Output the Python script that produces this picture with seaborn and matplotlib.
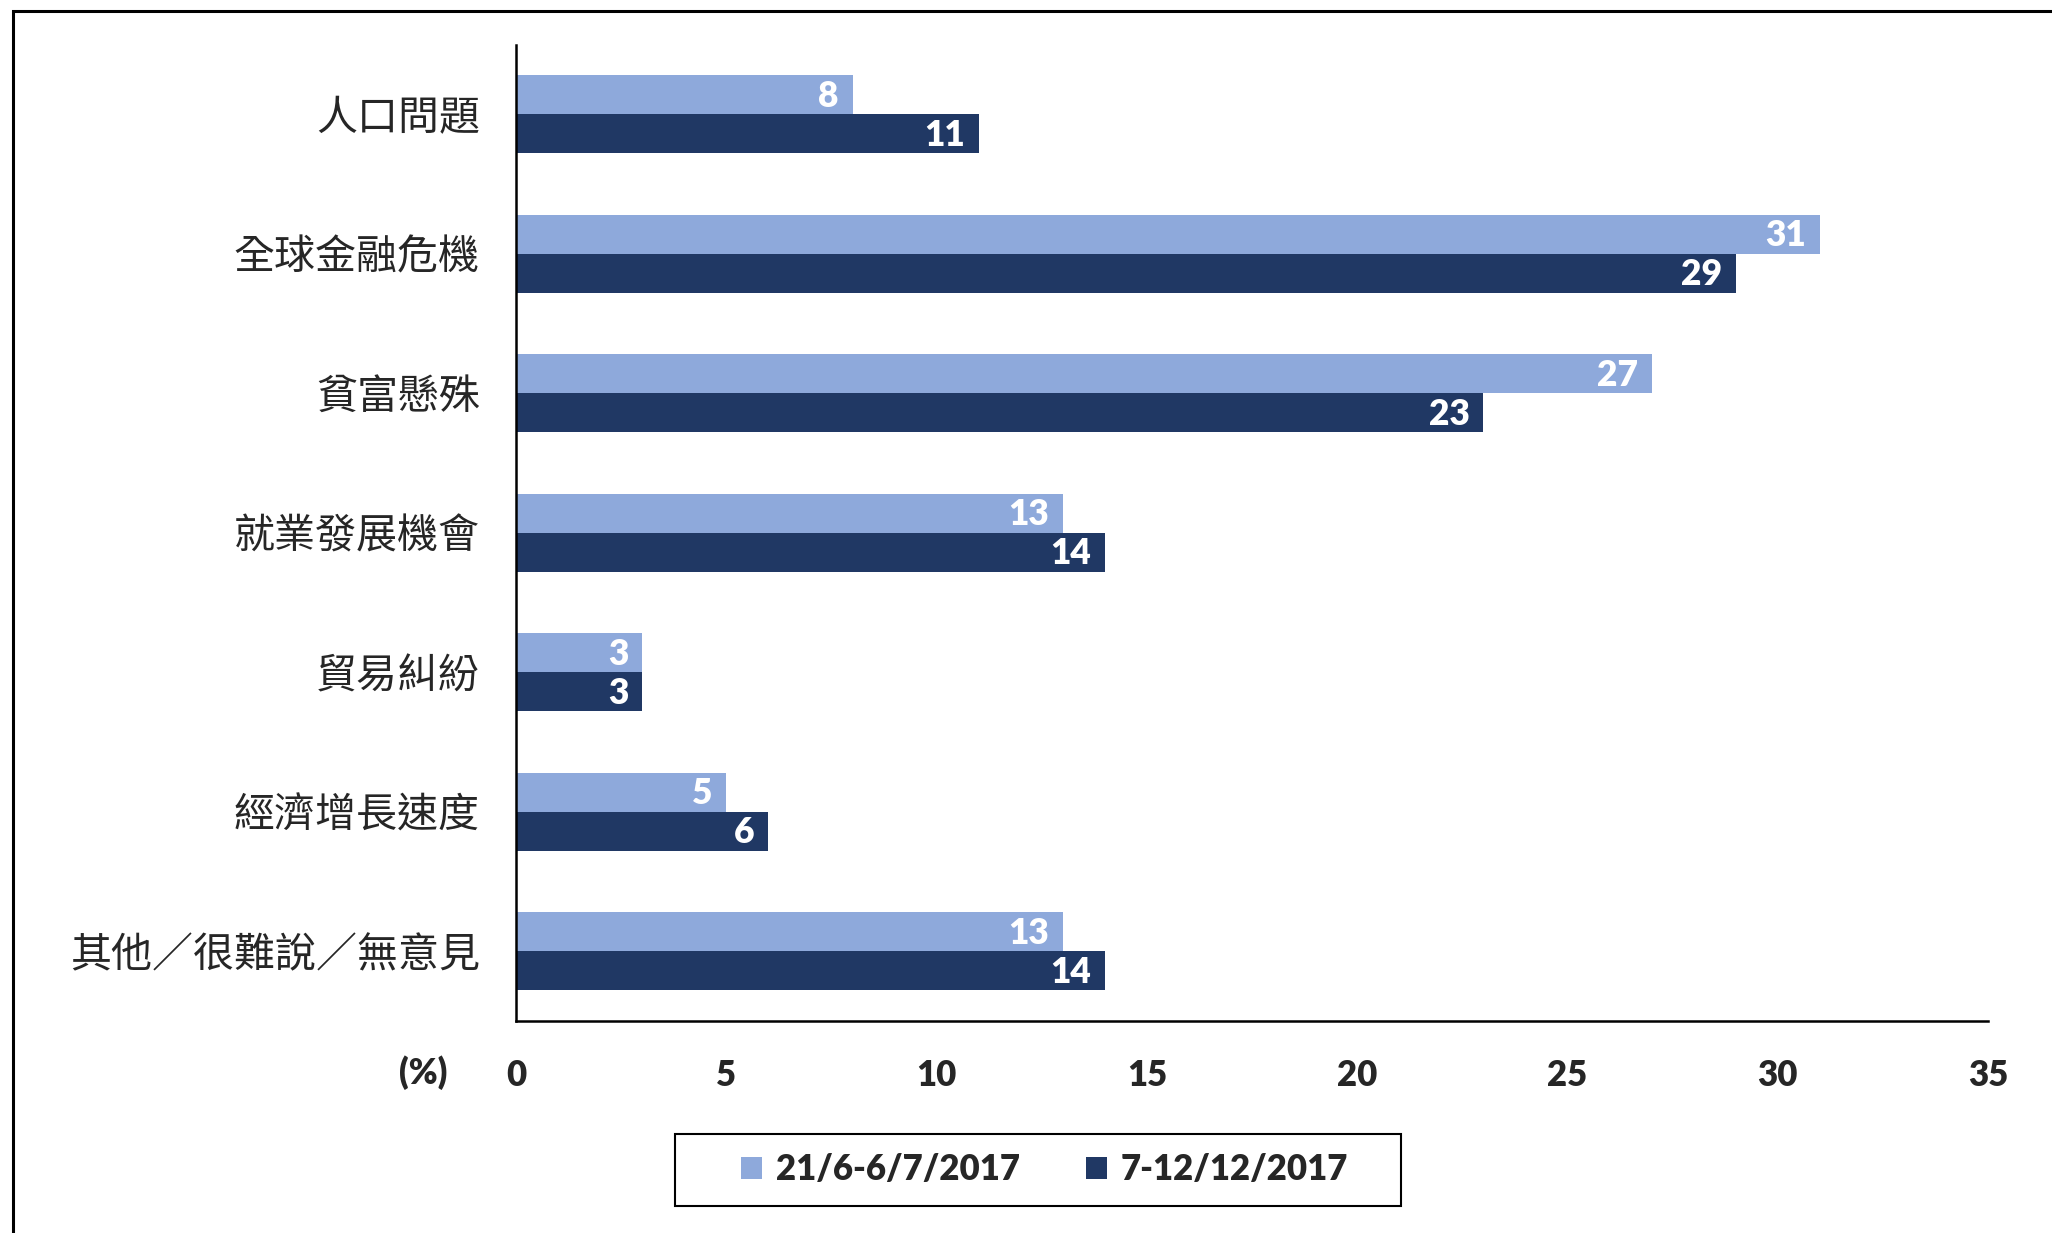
import numpy as np
import pandas as pd
import seaborn as sns
import matplotlib.pyplot as plt
from matplotlib.patches import Rectangle

# Chart data
categories = ['人口問題', '全球金融危機', '貧富懸殊', '就業發展機會',
              '貿易糾紛', '經濟增長速度', '其他／很難說／無意見']
periods = ['21/6-6/7/2017', '7-12/12/2017']
survey_1 = [8, 31, 27, 13, 3, 5, 13]
survey_2 = [11, 29, 23, 14, 3, 6, 14]
x_ticks = [0, 5, 10, 15, 20, 25, 30, 35]

LIGHT = '#8EA9DB'
DARK = '#203864'
NUM_WEIGHT = 'heavy'


def main():
    sns.set_style('white')
    plt.rcParams['font.family'] = ['Lato', 'Noto Sans CJK TC', 'DejaVu Sans']

    # long format table for seaborn
    df = pd.DataFrame({
        'category': categories * 2,
        'value': survey_1 + survey_2,
        'period': [periods[0]] * len(categories) + [periods[1]] * len(categories),
    })

    fig = plt.figure(figsize=(20.52, 12.33), dpi=100)
    ax = fig.add_axes([0.2515, 0.1719, 0.9688 - 0.2515, 0.9639 - 0.1719])

    sns.barplot(data=df, x='value', y='category', hue='period', orient='h',
                order=categories, hue_order=periods, palette=[LIGHT, DARK],
                saturation=1, width=0.56, linewidth=0, ax=ax)

    # value labels inside the bar ends
    for cont, vals in zip(ax.containers, [survey_1, survey_2]):
        for rect, v in zip(cont, vals):
            ax.annotate(f'{v}', (rect.get_width(), rect.get_y() + rect.get_height() / 2),
                        xytext=(-10, -1), textcoords='offset points',
                        ha='right', va='center', color='white',
                        fontsize=25.5, fontweight=NUM_WEIGHT)

    # axes look
    ax.set_xlim(0, 35)
    ax.set_ylim(6.5, -0.5)
    ax.set_xticks(x_ticks)
    ax.set_xticklabels([str(t) for t in x_ticks], fontsize=25, fontweight=NUM_WEIGHT)
    ax.set_yticks(np.arange(-0.5, 7, 1), minor=True)
    ax.tick_params(axis='y', which='major', length=0, pad=26, labelsize=29.5)
    ax.tick_params(axis='y', which='minor', length=7, width=1.8, direction='in', color='black')
    ax.tick_params(axis='x', which='major', length=7, width=1.8, direction='in',
                   color='black', pad=27)
    for lbl in ax.get_yticklabels():
        lbl.set_fontfamily('Noto Sans CJK TC')
    ax.set_xlabel('')
    ax.set_ylabel('')
    for side in ['top', 'right']:
        ax.spines[side].set_visible(False)
    for side in ['left', 'bottom']:
        ax.spines[side].set_color('black')
        ax.spines[side].set_linewidth(1.8)

    fig.text(423 / 2052, 1 - 1073 / 1233, '(%)', ha='center', va='center',
             fontsize=25, fontweight=NUM_WEIGHT)

    # legend, framed by a separate box
    handles, labels = ax.get_legend_handles_labels()
    ax.get_legend().remove()
    fig.legend(handles, labels, loc='center', bbox_to_anchor=(0.509, 0.0511),
               ncol=2, frameon=False, borderpad=0, handlelength=0.6, handleheight=0.6,
               handletextpad=0.4, columnspacing=1.9,
               prop={'family': 'Lato', 'weight': NUM_WEIGHT, 'size': 25})
    fig.add_artist(Rectangle((675 / 2052, 1 - 1206 / 1233), 726 / 2052, 72 / 1233,
                             transform=fig.transFigure, fill=False,
                             edgecolor='black', linewidth=1.5))

    # outer frame (only left and top fall inside the picture)
    fig.add_artist(Rectangle((13 / 2052, -0.5), 2, 0.9911 + 0.5,
                             transform=fig.transFigure, fill=False,
                             edgecolor='black', linewidth=2.2, clip_on=False))

    fig.savefig('out.png', dpi=100)


if __name__ == '__main__':
    main()
